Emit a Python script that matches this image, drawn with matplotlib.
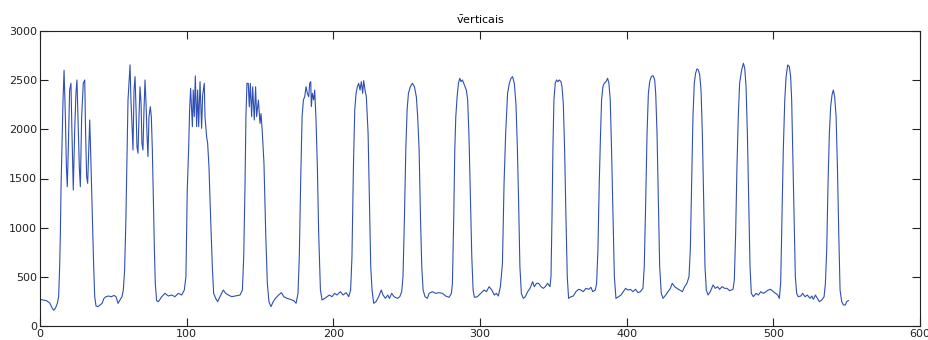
import matplotlib
matplotlib.use("Agg")
import matplotlib.pyplot as plt

# sample index (x) and intensity (y)
sample = [0, 2, 4.3, 6.6, 8.2, 9.3, 10.5, 11.8, 12.7, 13.4, 13.9, 14.3, 15, 15.7, 16.4, 17.3, 18, 18.6, 19.3, 20.2,
          21.1, 21.8, 22.7, 23.6, 24.5, 25.2, 25.9, 26.8, 27.5, 28.4, 29.5, 30.5, 31.1, 31.8, 32.5, 33.2, 33.9, 34.5,
          35.2, 35.9, 36.6, 37.3, 38.2, 39.5, 40.9, 42.3, 43.6, 45, 46.8, 48.6, 50.5, 51.8, 53.2, 54.5, 55.9, 56.8,
          57.7, 58.6, 59.3, 60, 60.7, 61.4, 62, 62.7, 63.4, 64.1, 64.8, 65.5, 66.1, 66.8, 67.5, 68.2, 68.9, 69.5,
          70.2, 70.9, 71.6, 72.3, 73, 73.6, 74.3, 75.2, 75.9, 76.6, 77.3, 78, 78.6, 79.5,
          80.7, 83, 85.2, 87.5, 89.8, 92, 94.3, 96.6, 98.4, 99.5, 100.4, 101.4, 102, 102.7, 103.9, 104.5, 105.2,
          105.9, 106.8, 107.5, 108.2, 109.1, 110.2, 110.9, 112, 112.5, 113.6, 114.3, 115.2, 116.3, 117.5, 118.4,
          119.8, 121.1, 122.7, 125, 126.6, 128.4, 130.7, 132.9, 136.4, 138, 138.9, 139.8, 140.4, 141.1, 142, 142.7,
          143.4, 144.3, 145, 146.1, 147, 147.7, 148.9, 150, 150.7, 151.6, 152.7, 153.9, 155, 156.1, 157.5, 159,
          160.5, 162.7, 164.6, 166.2, 168.4, 170.7, 173, 174.6, 175.9, 176.8, 177.7, 178.7, 179.6, 180.5, 181.4,
          182.3, 183.2, 183.9, 184.6, 185, 185.7, 186.6, 187.3, 188.2, 189.1, 190, 191.2, 192.3, 194.1, 195.7,
          197.3, 199.1, 200.9, 202.5, 204.8, 206.6, 208.7, 210.5, 211.8, 212.7, 213.7, 214.6, 215.5, 216.4, 217.3,
          218.2, 219.1, 220, 220.7, 221.6, 222.5, 223.7, 224.6, 225.5, 226.4, 227.5, 229.1, 230.9, 232.7, 233.9,
          235.5, 237.1, 238.2, 239.8,
          241.4, 243.7, 245.3, 246.6, 247.5, 248.5, 249.4, 250.3, 251.2, 252.5, 253.9, 255.3, 256.6, 257.5, 258.5,
          259.4, 260.3, 261.2, 262.5, 264.1, 265.3, 267.5, 269.8, 272.1, 274.4, 276.6, 278.9, 280.5, 281.2, 282.1,
          282.8, 283.5, 284.4, 285.3, 286.2, 287.1, 288, 288.9, 289.8, 290.7, 291.6, 292.5, 293.5, 294.4, 295.3,
          296.2, 298.2, 300.5, 302.8, 304.4, 306.2, 308, 309.8, 311.2, 312.5, 313.9, 315.3, 316.4, 317.5,
          318.8, 320, 321.1, 322.2, 323.4, 324.5, 325.4, 326.3, 327.2, 328.2, 329.5, 330.9, 332.5, 334.1, 335.9,
          337, 338.6, 340, 341.6, 343.2, 344.5, 346.1, 347.7, 348.4, 349.1, 349.7, 350.4, 351.3, 352.2, 353.2,
          354.1, 355.2, 355.9, 356.8, 357.7, 358.6, 359.5, 360.4, 362, 363.6, 365.4, 367.2, 368.8, 370.4, 372.2,
          374.1, 375.7, 376.8, 378.6, 379.5, 380.4, 381.3, 382.2, 382.9, 383.8, 384.7, 385.9, 387, 387.9, 388.8,
          389.7, 390.7, 391.6, 392.7, 394.5, 396.1, 397.7,
          399.3, 400.9, 402.5, 404.3, 406.1, 407.7, 409.3, 411.1, 412, 413, 413.9, 414.8, 415.7, 416.8, 418,
          419.1, 419.8, 420.7, 421.6, 422.5, 423.6, 424.8, 426.6, 428.2, 429.8, 431.1, 432.7, 434.3, 436.1, 438,
          439.5, 441.1, 442.5, 443.4, 444.3, 445.2, 446.1, 447, 447.9, 448.9, 449.8, 450.7, 451.6, 452.5, 453.4,
          454.3, 455.5, 457, 458.9, 460.5, 462, 463.4, 465, 466.8, 468.4, 470.2, 472.5, 473.4, 474.3, 475.2,
          476.1, 477,
          478.4, 479.6, 480.5, 481.4, 482.3, 483.2, 484.1, 485, 486.4, 488.2, 489.8, 491.4, 493.2, 495, 496.6,
          498.2, 500, 501.6, 503, 504.1, 505, 505.9, 506.8, 507.8, 508.7, 509.8, 510.9, 511.8, 512.5, 513.2,
          514.1, 515, 515.9, 517, 518.7, 520, 521.6, 523.2, 525, 526.2, 527.3, 528.7, 530, 531.4, 533, 534.6,
          535.5, 536.4, 537.3, 538.2, 539.1, 540, 540.9, 541.8, 542.8, 543.7, 544.6, 545.5, 546.6, 547.8, 549.1,
          550, 551.2]

level = [270, 265, 258, 235, 185, 160, 180, 230, 298, 604, 943, 1383, 1858, 2298, 2600, 2129, 1620, 1417, 1800, 2400,
         2468, 1960, 1383, 1960, 2366, 2502, 2129, 1620, 1417, 2129, 2468, 2502, 1960, 1519, 1451, 1790, 2095, 1790,
         1383, 943, 604, 298, 203, 197, 213, 230, 281, 298, 305, 298, 311, 298, 230, 264, 298, 366,
         570, 1112, 1723, 2298, 2468, 2655, 2298, 2060, 1790, 2400, 2536, 2197, 1824, 1757, 2129, 2433, 2264, 1858,
         1790, 2197, 2502, 2264, 1925, 1723, 2129, 2230, 2129, 1790, 1282, 773, 434, 257,
         247, 298, 332, 305, 315, 298, 332, 315, 366, 502, 1383, 1824, 2197, 2417, 2027, 2400, 2130,
         2543, 2027, 2400, 2027, 2485, 2010, 2350, 2468, 2129, 1925, 1858, 1620, 1112, 604, 332,
         281, 247, 298, 366, 332, 315, 298, 305, 315, 366, 705, 1451, 2129, 2468, 2468, 2230,
         2468, 2129, 2433, 2095, 2433, 2129, 2298, 2060, 2160, 1960, 1655, 943, 434, 247, 197, 247,
         281, 315, 339, 298, 281, 271, 258, 231, 332, 705, 1451, 2129, 2299, 2332, 2434,
         2366, 2332, 2468, 2485, 2231, 2366, 2299, 2400, 2095, 1620, 943, 366, 264, 281, 298,
         315, 298, 332, 315, 349, 315, 339, 298, 366, 705, 1620, 2197, 2366, 2434, 2468,
         2400, 2485, 2366, 2495, 2400, 2332, 1960, 1282, 604, 366, 231, 248, 298, 366, 315,
         281, 315, 281, 332,
         298, 281, 298, 349, 502, 1112, 1790, 2197, 2366, 2434, 2468, 2434, 2332, 2129, 1790,
         1112, 604, 366, 298, 281, 332, 349, 332, 339, 332, 305, 292, 332, 434, 1112,
         1790, 2129, 2332, 2468, 2519, 2485, 2502, 2468, 2434, 2400, 2299, 1925, 1282, 705, 366,
         291, 298, 332, 366, 349, 400, 366, 315, 332, 305, 400, 637, 1451, 1960,
         2366, 2468, 2519, 2536, 2468, 2264, 1858, 1282, 604, 332, 281, 298, 349, 383, 451,
         400, 434, 434, 400, 383, 400, 434, 400, 502, 1112, 1790, 2299, 2468, 2502, 2485,
         2502, 2485, 2434, 2264, 1790, 1112, 502, 281, 298, 305, 349, 373, 366, 349, 383,
         373, 393, 349, 366, 434, 773, 1451, 1960, 2299, 2434, 2468, 2485, 2519, 2468, 2299,
         1790, 1112, 502, 281, 298, 315, 349,
         383, 366, 373, 349, 373, 339, 349, 383, 604, 1282, 1960, 2366, 2485, 2536, 2546,
         2502, 2366, 1960, 1282, 604, 332, 281, 315, 349, 383, 434, 400, 383, 366, 349,
         400, 434, 502, 773, 1451, 2129, 2468, 2570, 2614, 2604, 2553, 2400, 1960, 1282, 604,
         366, 315, 349, 417, 383, 400, 373, 400, 383, 383, 359, 373, 468, 943, 1620,
         2129, 2468,
         2604, 2672, 2621, 2434, 1960, 1282, 604, 332, 298, 332, 315, 349, 332, 349, 366,
         373, 349, 332, 315, 281, 434, 1112, 1790, 2299, 2536, 2655, 2638, 2536, 2299, 1790,
         1112, 502, 332, 298, 305, 332, 298, 315, 281, 305, 271, 315, 281, 248, 264, 298,
         434, 773, 1451, 1960, 2231, 2349, 2400, 2332, 2129, 1620, 943, 366, 248, 214, 214,
         248, 258]

title_txt = r'$\bar{\mathrm{v}}$erticais'
x_ticks = [0, 100, 200, 300, 400, 500, 600]
y_ticks = [0, 500, 1000, 1500, 2000, 2500, 3000]

fig = plt.figure(figsize=(9.29, 3.40), dpi=100)
ax = fig.add_axes([40/929, 14/340, 880/929, 295/340])
ax.plot(sample, level, color='#2f4fb5', lw=0.8)

ax.set_xlim(0, 600)
ax.set_ylim(0, 3000)
ax.set_xticks(x_ticks)
ax.set_yticks(y_ticks)
ax.tick_params(direction='in', length=6, width=0.8, top=True, right=True,
               labelsize=8, pad=2, colors='#222222')
for s in ax.spines.values():
    s.set_linewidth(0.8)
    s.set_color('#222222')
ax.set_title(title_txt, fontsize=8, pad=5)

fig.savefig('out.png', dpi=100)
